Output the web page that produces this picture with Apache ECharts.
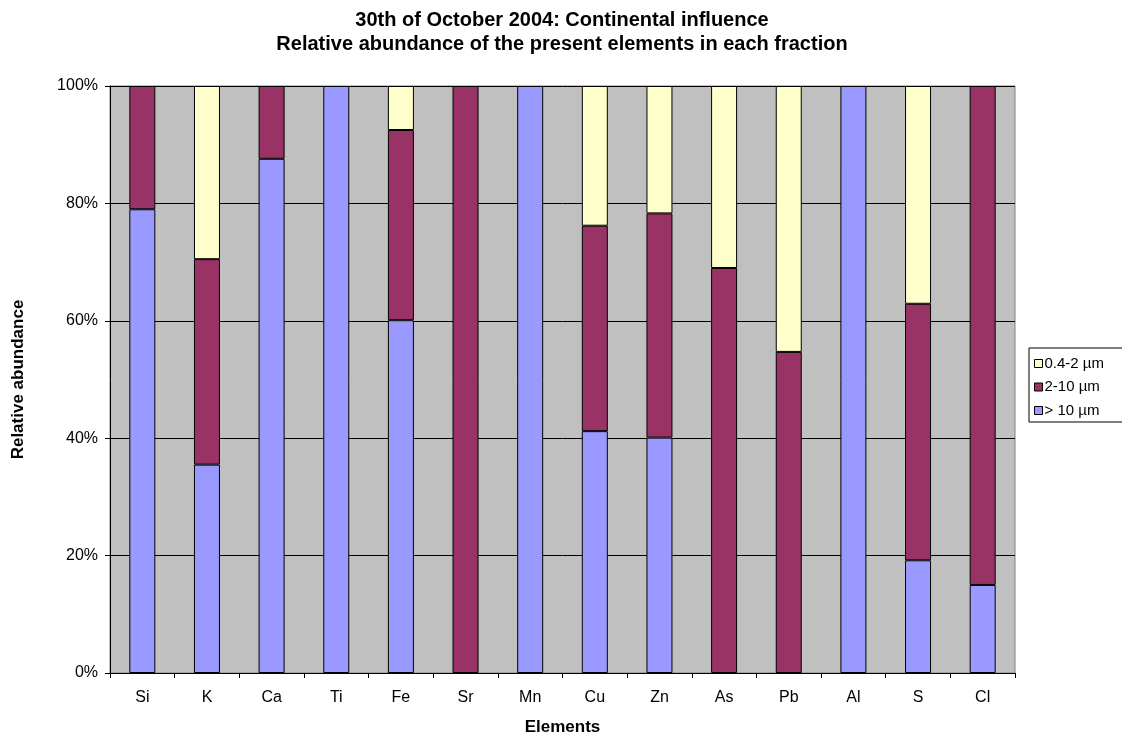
<!DOCTYPE html>
<html>
<head>
<meta charset="utf-8">
<script src="https://cdn.jsdelivr.net/npm/echarts@6/dist/echarts.min.js"></script>
<style>
  html, body { margin: 0; padding: 0; background: #fff; }
  #chart { width: 1122px; height: 741px; }
</style>
</head>
<body>
<div id="chart"></div>
<script>
// Elements measured and their share (%) in each size fraction
const elements = ['Si', 'K', 'Ca', 'Ti', 'Fe', 'Sr', 'Mn', 'Cu', 'Zn', 'As', 'Pb', 'Al', 'S', 'Cl'];
const coarse = [79.0, 35.5, 87.6, 100, 60.1, 0, 100, 41.2, 40.1, 0, 0, 100, 19.2, 15.0];      // > 10 µm
const medium = [21.0, 35.0, 12.4, 0, 32.4, 100, 0, 35.0, 38.2, 69.0, 54.7, 0, 43.7, 85.0];    // 2-10 µm
const fine = [0, 29.5, 0, 0, 7.5, 0, 0, 23.8, 21.7, 31.0, 45.3, 0, 37.1, 0];                   // 0.4-2 µm
const yTicks = [0, 20, 40, 60, 80, 100];

const FONT = '"Liberation Sans", Arial, sans-serif';

// Empty fractions are left out so no zero-height outline is drawn
function barSeries(name, data, color) {
  return {
    name: name,
    type: 'bar',
    stack: 'total',
    data: data.map(v => (v === 0 ? null : v)),
    barWidth: 26,
    itemStyle: { color: color, borderColor: '#000', borderWidth: 1 },
    emphasis: { disabled: true }
  };
}

const chart = echarts.init(document.getElementById('chart'));
chart.setOption({
  animation: false,
  backgroundColor: '#fff',
  title: {
    text: '30th of October 2004: Continental influence\nRelative abundance of the present elements in each fraction',
    left: 557,
    textAlign: 'center',
    top: 3,
    textStyle: { fontFamily: FONT, fontSize: 20, fontWeight: 'bold', color: '#000', lineHeight: 24 }
  },
  legend: {
    orient: 'vertical',
    left: 1029,
    top: 348,
    data: ['0.4-2 µm', '2-10 µm', '> 10 µm'],
    icon: 'rect',
    itemWidth: 8,
    itemHeight: 8,
    itemGap: 8.5,
    padding: [8, 19, 4, 5],
    borderColor: '#000',
    borderWidth: 1,
    textStyle: { fontFamily: FONT, fontSize: 15, lineHeight: 15, color: '#000', padding: [0, 0, 0, -3] },
    itemStyle: { borderColor: '#000', borderWidth: 1 },
    selectedMode: false
  },
  grid: {
    left: 110,
    right: 107,
    top: 86,
    bottom: 67,
    show: true,
    backgroundColor: '#C0C0C0',
    borderColor: '#808080',
    borderWidth: 1
  },
  xAxis: {
    type: 'category',
    data: elements,
    name: 'Elements',
    nameLocation: 'middle',
    nameGap: 46,
    nameTextStyle: { fontFamily: FONT, fontSize: 17, fontWeight: 'bold', color: '#000' },
    axisLine: { lineStyle: { color: '#000', width: 1 } },
    axisTick: { show: true, length: 5, lineStyle: { color: '#000' } },
    axisLabel: { fontFamily: FONT, fontSize: 16, color: '#000', margin: 17 },
    splitLine: { show: false }
  },
  yAxis: {
    type: 'value',
    min: yTicks[0],
    max: yTicks[yTicks.length - 1],
    interval: 20,
    name: 'Relative abundance',
    nameLocation: 'middle',
    nameGap: 83,
    nameRotate: 90,
    nameTextStyle: { fontFamily: FONT, fontSize: 17, fontWeight: 'bold', color: '#000' },
    axisLine: { show: true, lineStyle: { color: '#000', width: 1 } },
    axisTick: { show: true, length: 5, lineStyle: { color: '#000' } },
    axisLabel: { fontFamily: FONT, fontSize: 16, color: '#000', margin: 12, formatter: '{value}%' },
    splitLine: { show: true, lineStyle: { color: '#000', width: 1 } }
  },
  series: [
    barSeries('> 10 µm', coarse, '#9999FF'),
    barSeries('2-10 µm', medium, '#993366'),
    barSeries('0.4-2 µm', fine, '#FFFFCC')
  ]
});
</script>
</body>
</html>
